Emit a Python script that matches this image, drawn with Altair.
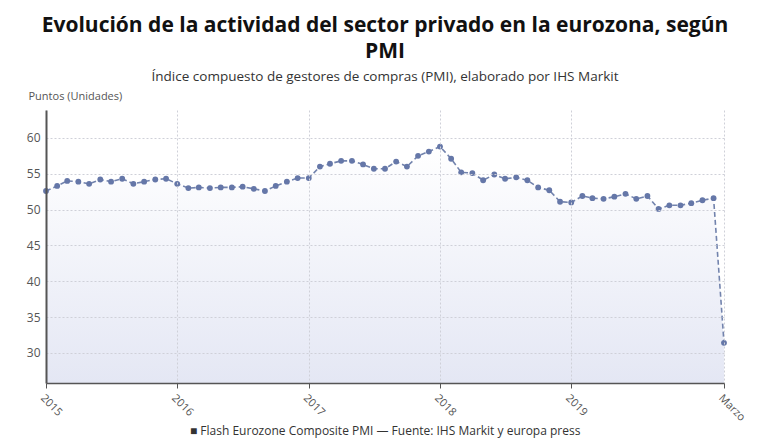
import altair as alt
import pandas as pd

# Índice PMI compuesto de la eurozona, mensual (enero 2015 - marzo 2020)
pmi_2015 = [52.6, 53.3, 54.0, 53.9, 53.6, 54.2, 53.9, 54.3, 53.6, 53.9, 54.2, 54.3]
pmi_2016 = [53.6, 53.0, 53.1, 53.0, 53.1, 53.1, 53.2, 52.9, 52.6, 53.3, 53.9, 54.4]
pmi_2017 = [54.4, 56.0, 56.4, 56.8, 56.8, 56.3, 55.7, 55.7, 56.7, 56.0, 57.5, 58.1]
pmi_2018 = [58.8, 57.1, 55.2, 55.1, 54.1, 54.9, 54.3, 54.5, 54.1, 53.1, 52.7, 51.1]
pmi_2019 = [51.0, 51.9, 51.6, 51.5, 51.8, 52.2, 51.5, 51.9, 50.1, 50.6, 50.6, 50.9]
pmi_2020 = [51.3, 51.6, 31.4]

valores = pmi_2015 + pmi_2016 + pmi_2017 + pmi_2018 + pmi_2019 + pmi_2020
fechas = pd.date_range("2015-01-01", periods=len(valores), freq="MS").strftime("%Y-%m-%d").tolist()

marcas_eje_x = ["2015-01-01", "2016-01-01", "2017-01-01", "2018-01-01", "2019-01-01", "2020-03-01"]
marcas_eje_y = [30, 35, 40, 45, 50, 55, 60]
y_min, y_max = 25.8, 63.9

titulo = ["Evolución de la actividad del sector privado en la eurozona, según", "PMI"]
subtitulo = "Índice compuesto de gestores de compras (PMI), elaborado por IHS Markit"
leyenda = "■ Flash Eurozone Composite PMI  —  Fuente: IHS Markit y europa press"

df = pd.DataFrame({"fecha": fechas, "pmi": valores})


def ms(d):
    return int(pd.Timestamp(d, tz="UTC").timestamp() * 1000)


FONT = "Open Sans"
LINE = "#7283ad"
DOT = "#6577a8"

x_enc = alt.X(
    "fecha:T",
    scale=alt.Scale(type="utc", domain=[ms(fechas[0]), ms(fechas[-1])]),
    axis=alt.Axis(
        values=[ms(d) for d in marcas_eje_x],
        labelExpr="utcmonth(datum.value) == 2 ? 'Marzo' : utcFormat(datum.value, '%Y')",
        labelAngle=45,
        labelAlign="left",
        labelBaseline="top",
        labelFontSize=11,
        labelColor="#555555",
        labelFont=FONT,
        labelPadding=4,
        domainColor="#555555",
        domainWidth=1.5,
        tickColor="#555555",
        tickSize=5,
        grid=True,
        gridColor="#cfd0d8",
        gridDash=[2, 2],
        title=None,
        zindex=1,
    ),
)

y_enc = alt.Y(
    "pmi:Q",
    scale=alt.Scale(domain=[y_min, y_max], nice=False, zero=False),
    axis=alt.Axis(
        values=marcas_eje_y,
        labelFontSize=12,
        labelColor="#555555",
        labelFont=FONT,
        labelPadding=6,
        ticks=False,
        domainColor="#555555",
        domainWidth=2,
        gridColor="#cfd0d8",
        gridDash=[2, 2],
        title="Puntos (Unidades)",
        titleAngle=0,
        titleAlign="left",
        titleBaseline="middle",
        titleX=-18,
        titleY=-14,
        titleFontSize=11,
        titleFontWeight="normal",
        titleColor="#555555",
        titleFont=FONT,
        zindex=1,
    ),
)

base = alt.Chart(df).encode(x=x_enc, y=y_enc)

# Relleno bajo la serie, degradado de blanco a lavanda hasta el fondo del eje
area = base.mark_area(
    color=alt.Gradient(
        gradient="linear",
        stops=[
            alt.GradientStop(color="#ffffff", offset=0),
            alt.GradientStop(color="#e4e7f4", offset=1),
        ],
        x1=0, x2=0, y1=0, y2=1,
    ),
    opacity=1,
).encode(y2=alt.datum(y_min))

linea = base.mark_line(color=LINE, strokeWidth=1.6, strokeDash=[5, 3])
puntos = base.mark_point(filled=True, color=DOT, size=34, opacity=1)

nota = alt.Chart(pd.DataFrame({"t": [leyenda]})).mark_text(
    align="left", baseline="middle", fontSize=12, font=FONT, color="#333333"
).encode(text="t:N", x=alt.value(144), y=alt.value(321))

chart = (
    alt.layer(area, linea, puntos, nota)
    .properties(
        width=678,
        height=273,
        autosize=alt.AutoSizeParams(type="none"),
        padding={"left": 46, "top": 110, "right": 56, "bottom": 57},
        title=alt.TitleParams(
            text=titulo,
            subtitle=subtitulo,
            anchor="middle",
            font=FONT,
            fontSize=21,
            fontWeight="bold",
            color="#111111",
            lineHeight=26,
            subtitleFont=FONT,
            subtitleFontSize=13.5,
            subtitleColor="#333333",
            subtitlePadding=8,
            offset=7,
        ),
    )
    .configure_view(stroke=None)
)

chart.save("out.html", embed_options={"renderer": "svg", "actions": False})
